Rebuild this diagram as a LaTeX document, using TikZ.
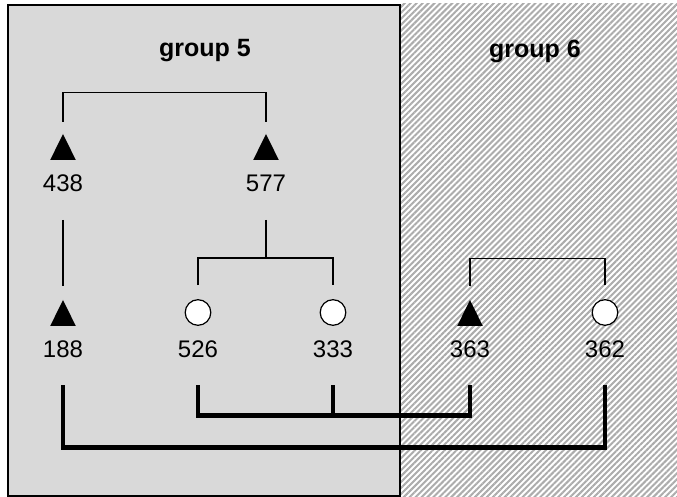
\documentclass[tikz,border=0pt]{standalone}
\usepackage{fontspec}
\setmainfont{Liberation Sans}
\usetikzlibrary{positioning, patterns.meta}
\definecolor{panelgray}{RGB}{217,217,217}
\definecolor{hatchgray}{RGB}{172,172,172}

\begin{document}
\begin{tikzpicture}[x=0.5pt, y=-0.5pt,
    tri/.style={rectangle, inner sep=0pt, minimum width=12.8pt, minimum height=13pt,
      path picture={\fill[black] (path picture bounding box.south west) -- (path picture bounding box.south east) -- (path picture bounding box.north) -- cycle;}},
    circ/.style={circle, draw=black, line width=0.6pt, fill=white, inner sep=0pt, minimum size=12.8pt},
    lbl/.style={inner sep=0pt, font=\fontsize{12}{14}\selectfont},
    heading/.style={font=\fontsize{12.5}{15}\selectfont\bfseries},
    link/.style={line width=0.75pt},
    bond/.style={line width=2.2pt}
  ]
  \useasboundingbox (0,0) rectangle (677,497);
  % the two groups
  \fill[white] (401,4) rectangle (677,497);
  \fill[pattern={Lines[angle=45, distance=2.1pt, line width=1pt]}, pattern color=hatchgray] (401,4) rectangle (677,497);
  \draw[fill=panelgray, line width=1.2pt] (8,5) rectangle (400,496);

  \node[heading] (g5) at (205,51) {group 5};
  \node[heading] (g6) at (535,51) {group 6};

  % individuals
  \node[tri] (t438) at (63,147) {};
  \node[tri] (t577) at (266,147) {};
  \node[tri] (t188) at (63,313) {};
  \node[circ] (c526) at (198,312.5) {};
  \node[circ] (c333) at (333,312.5) {};
  \node[tri] (t363) at (470,313) {};
  \node[circ] (c362) at (605,312.5) {};

  \node[lbl] (l438) at ([yshift=-18pt]t438.center) {438};
  \node[lbl] (l577) at ([yshift=-18pt]t577.center) {577};
  \node[lbl] (l188) at ([yshift=-18.25pt]t188.center) {188};
  \node[lbl] (l526) at ([yshift=-18.5pt]c526.center) {526};
  \node[lbl] (l333) at ([yshift=-18.5pt]c333.center) {333};
  \node[lbl] (l363) at ([yshift=-18.25pt]t363.center) {363};
  \node[lbl] (l362) at ([yshift=-18.5pt]c362.center) {362};

  % pedigree lines
  \draw[link] ([yshift=6pt]t438.north) -- ++(0,-29) -| ([yshift=6pt]t577.north);
  \draw[link] ([yshift=-14pt]l438.south) -- ([yshift=7pt]t188.north);
  \draw[link] ([yshift=-14pt]l577.south) -- ++(0,38) coordinate (j577);
  \draw[link] ([yshift=7pt]c526.north) |- (j577) -| ([yshift=7pt]c333.north);
  \draw[link] ([yshift=7pt]t363.north) -- ++(0,-27) -| ([yshift=7pt]c362.north);

  % links below
  \draw[bond] ([yshift=-13.5pt]l526.south) -- ++(0,30) coordinate (k526) -| ([yshift=-13.5pt]l363.south);
  \draw[bond] ([yshift=-13.5pt]l333.south) -- (l333.south |- k526);
  \draw[bond] ([yshift=-13.5pt]l188.south) -- ++(0,62) -| ([yshift=-13.5pt]l362.south);
\end{tikzpicture}
\end{document}
